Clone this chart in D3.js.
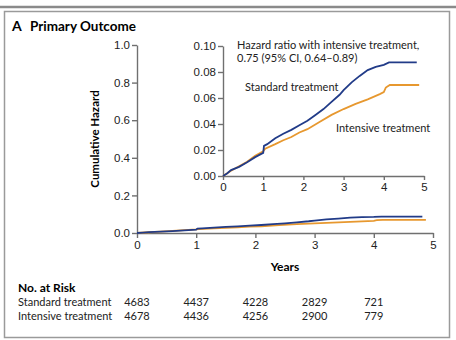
<!DOCTYPE html>
<html>
<head>
<meta charset="utf-8">
<script src="https://cdn.jsdelivr.net/npm/d3@7"></script>
<style>
  body { margin: 0; background: #fff; }
  svg { display: block; font-family: Lato, "Open Sans", sans-serif; }
  .axis path, .axis line { stroke: #707070; stroke-width: 1.4; }
  .axis text { fill: #222; font-size: 11.5px; }
</style>
</head>
<body>
<script>
// cumulative hazard: [years, hazard]
var standard = [[0,0],[0.1,0.002],[0.2,0.0045],[0.4,0.007],[0.6,0.0105],[0.8,0.0145],[1.0,0.0178],
  [1.02,0.0232],[1.1,0.0245],[1.3,0.029],[1.5,0.0325],[1.7,0.0355],[1.9,0.039],[2.1,0.0425],
  [2.3,0.047],[2.5,0.0515],[2.7,0.057],[2.9,0.0625],[3.0,0.066],[3.2,0.072],[3.4,0.077],
  [3.6,0.0815],[3.8,0.084],[4.0,0.0855],[4.13,0.0874],[4.82,0.0874]];
var intensive = [[0,0],[0.2,0.004],[0.4,0.0075],[0.6,0.011],[0.8,0.0155],[1.0,0.019],[1.05,0.021],
  [1.3,0.0245],[1.5,0.0275],[1.7,0.030],[1.9,0.0335],[2.1,0.036],[2.4,0.0415],[2.7,0.047],
  [3.0,0.0515],[3.3,0.0555],[3.6,0.059],[3.9,0.063],[4.0,0.0645],[4.05,0.068],[4.15,0.070],[4.88,0.070]];

var yearTicks = [0, 1, 2, 3, 4, 5];
var mainYTicks = [0, 0.2, 0.4, 0.6, 0.8, 1.0];
var insetYTicks = [0, 0.02, 0.04, 0.06, 0.08, 0.10];
var riskYears = [0, 1, 2, 3, 4];
var riskRows = ["Standard treatment", "Intensive treatment"];
var riskStandard = [4683, 4437, 4228, 2829, 721];
var riskIntensive = [4678, 4436, 4256, 2900, 779];

var blue = "#213b88", orange = "#e7982f";

var svg = d3.select("body").append("svg")
  .attr("width", 456)
  .attr("height", 340);

// frame
svg.append("line").attr("x1", 0).attr("x2", 456).attr("y1", 7).attr("y2", 7)
  .attr("stroke", "#8a8a8a").attr("stroke-width", 2.5);
svg.append("rect").attr("x", 4.5).attr("y", 11.5).attr("width", 445).attr("height", 326)
  .attr("fill", "none").attr("stroke", "#9a9a9a").attr("stroke-width", 1.5);

// title
svg.append("text").attr("x", 12).attr("y", 31)
  .style("font-weight", "bold").style("font-size", "14px")
  .text("A");
svg.append("text").attr("x", 30).attr("y", 31)
  .style("font-weight", "bold").style("font-size", "13.5px")
  .text("Primary Outcome");

// main plot
var x = d3.scaleLinear().domain([0, 5]).range([137, 433]);
var y = d3.scaleLinear().domain([0, 1]).range([233, 45]);

svg.append("g").attr("class", "axis")
  .attr("transform", "translate(0,233)")
  .call(d3.axisBottom(x).tickValues(yearTicks).tickFormat(d3.format("d")).tickSize(5).tickPadding(3).tickSizeOuter(0));
svg.append("g").attr("class", "axis")
  .attr("transform", "translate(137,0)")
  .call(d3.axisLeft(y).tickValues(mainYTicks).tickFormat(d3.format(".1f")).tickSize(5).tickPadding(2).tickSizeOuter(0));

var mainLine = d3.line().x(d => x(d[0])).y(d => y(d[1]));
svg.append("path").datum(intensive).attr("d", mainLine)
  .attr("fill", "none").attr("stroke", orange).attr("stroke-width", 1.8);
svg.append("path").datum(standard).attr("d", mainLine)
  .attr("fill", "none").attr("stroke", blue).attr("stroke-width", 1.8);

svg.append("text").attr("x", 285).attr("y", 271).attr("text-anchor", "middle")
  .style("font-weight", "bold").style("font-size", "12px").text("Years");
svg.append("text").attr("transform", "translate(99,139) rotate(-90)").attr("text-anchor", "middle")
  .style("font-weight", "bold").style("font-size", "11.5px").text("Cumulative Hazard");

// inset
var xi = d3.scaleLinear().domain([0, 5]).range([223, 424]);
var yi = d3.scaleLinear().domain([0, 0.10]).range([176, 46]);

svg.append("g").attr("class", "axis")
  .attr("transform", "translate(0,176)")
  .call(d3.axisBottom(xi).tickValues(yearTicks).tickFormat(d3.format("d")).tickSize(4).tickPadding(3).tickSizeOuter(0));
svg.append("g").attr("class", "axis")
  .attr("transform", "translate(223,0)")
  .call(d3.axisLeft(yi).tickValues(insetYTicks).tickFormat(d3.format(".2f")).tickSize(5).tickPadding(2).tickSizeOuter(0));

var insetLine = d3.line().x(d => xi(d[0])).y(d => yi(d[1]));
svg.append("path").datum(intensive).attr("d", insetLine)
  .attr("fill", "none").attr("stroke", orange).attr("stroke-width", 1.8);
svg.append("path").datum(standard).attr("d", insetLine)
  .attr("fill", "none").attr("stroke", blue).attr("stroke-width", 1.8);

svg.append("text").attr("x", 237).attr("y", 49).style("font-size", "11px").attr("fill", "#222")
  .text("Hazard ratio with intensive treatment,");
svg.append("text").attr("x", 237).attr("y", 62).style("font-size", "11px").attr("fill", "#222")
  .text("0.75 (95% CI, 0.64\u20130.89)");
svg.append("text").attr("x", 245).attr("y", 91).style("font-size", "11px").attr("fill", "#222")
  .text("Standard treatment");
svg.append("text").attr("x", 336).attr("y", 132).style("font-size", "11px").attr("fill", "#222")
  .text("Intensive treatment");

// number at risk
svg.append("text").attr("x", 18).attr("y", 292)
  .style("font-weight", "bold").style("font-size", "12px").text("No. at Risk");

var rowY = d3.scalePoint().domain(riskRows).range([306, 320]);
[riskStandard, riskIntensive].forEach(function (vals, i) {
  var row = riskRows[i];
  svg.append("text").attr("x", 18).attr("y", rowY(row))
    .style("font-size", "11px").attr("fill", "#222").text(row);
  svg.selectAll(null).data(vals).enter().append("text")
    .attr("x", (d, j) => x(riskYears[j]))
    .attr("y", rowY(row))
    .attr("text-anchor", "middle")
    .style("font-size", "11px").attr("fill", "#222")
    .text(d => d);
});
</script>
</body>
</html>
